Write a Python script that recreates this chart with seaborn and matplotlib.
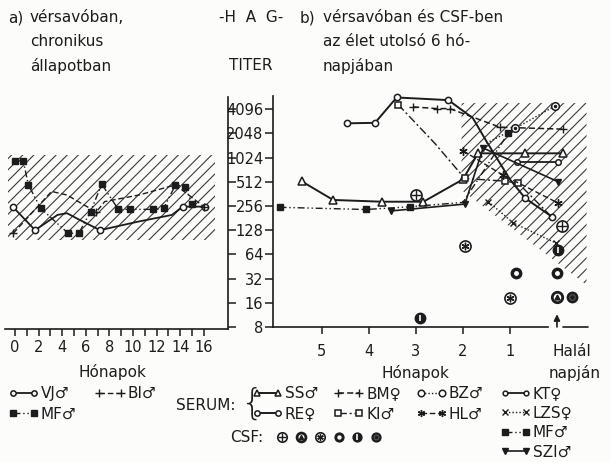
import matplotlib
matplotlib.use("Agg")
import matplotlib.pyplot as plt
import seaborn as sns
from matplotlib.lines import Line2D
from matplotlib.legend_handler import HandlerTuple
from matplotlib.ticker import FixedLocator, NullFormatter

# --- a) panel: chronikus állapot (hónapok, titer) ---
vj_honap = [-0.2, 1.7, 3.6, 4.4, 5.5, 7.2, 10.4, 13.3, 14.2, 16.1]
vj_titer = [251, 128, 198, 208, 171, 128, 163, 198, 251, 251]
bi_honap = [-0.15, 3.1, 4.4, 6.35, 6.9, 7.6, 10.5, 13.6, 16.0]
bi_titer = [117, 388, 350, 239, 217, 290, 350, 468, 251]
mfa_honap = [0, 0.7, 1.13, 2.18, 4.5, 5.4, 6.4, 7.35, 8.75, 9.75, 11.7, 12.6, 13.6, 14.4, 15.0]
mfa_titer = [929, 929, 468, 239, 117, 117, 217, 478, 232, 232, 232, 239, 468, 446, 274]
norm_a_honap = [-0.6, 16.95]
norm_a_titer = [97, 1097]

# --- b) panel: az élet utolsó 6 hónapja (hónap a halálig, titer) ---
ss_honap = [5.43, 4.76, 3.73, 2.84, 2.0, 1.68, 0.68, -0.13]
ss_titer = [520, 305, 290, 290, 550, 1160, 1160, 1160]
re_honap = [4.47, 3.87, 3.41, 2.31, 1.79, 1.49, 1.0, 0.68, 0.11]
re_titer = [2740, 2780, 5750, 5330, 3190, 1600, 549, 322, 189]
bm_honap = [3.06, 2.56, 2.28, 1.21, -0.13]
bm_titer = [4390, 4180, 4180, 2450, 2320]
ki_honap = [3.38, 2.6, 1.96, 1.11, 0.82, 0.11]
ki_titer = [4700, 1550, 564, 523, 491, 187]
bz_honap = [1.5, 0.89, 0.04]
bz_titer = [1550, 2370, 4510]
hl_honap = [2.0, 1.15, -0.03]
hl_titer = [1250, 621, 278]
kt_honap = [0.86, -0.03]
kt_titer = [910, 910]
lzs_honap = [1.46, 0.93, 0.01]
lzs_titer = [290, 158, 88]
mfb_honap = [5.9, 4.06, 3.13, 2.0, 1.04]
mfb_titer = [247, 232, 251, 284, 2048]
szi_honap = [3.52, 1.96, 1.57, -0.03]
szi_titer = [223, 271, 1350, 512]
norm_b_honap = [2.03, -0.63, -0.63, 2.03]
norm_b_titer = [4900, 4900, 26.7, 405]

# CSF mérések (tipus: 0 ⊕, 1 Ⓐ, 2 ⊛, 3 gyűrű, 4 Φ, 5 tömör)
csf_honap = [2.99, -0.1, 1.96, 1.0, 0.87, 0.0, 0.0, -0.31, 2.91, -0.03]
csf_titer = [350, 146, 82, 18.3, 37.3, 37.3, 18.8, 18.8, 10.3, 72.5]
csf_tipus = [0, 0, 2, 2, 3, 3, 1, 5, 4, 4]

titer_ticks = [8, 16, 32, 64, 128, 256, 512, 1024, 2048, 4096]
honap_a_ticks = [0, 2, 4, 6, 8, 10, 12, 14, 16]
honap_b_ticks = [5, 4, 3, 2, 1]

ink = "#1c1c1c"
W, H = 611, 462

sns.set_style("white")
plt.rcParams["font.family"] = ["DejaVu Sans"]
plt.rcParams["hatch.linewidth"] = 0.8


def fx(x):
    return x / W


def fy(y):
    return 1 - y / H


fig = plt.figure(figsize=(W / 100, H / 100), dpi=100, facecolor="#fcfcfa")
ax_a = fig.add_axes([fx(5), fy(329), 223 / W, 232 / H])
ax_b = fig.add_axes([fx(273), fy(327), 315 / W, 231 / H])

for ax in (ax_a, ax_b):
    ax.set_facecolor("none")
    ax.set_yscale("log", base=2)
    ax.yaxis.set_major_locator(FixedLocator(titer_ticks))
    ax.yaxis.set_minor_locator(FixedLocator([]))
    for s in ax.spines.values():
        s.set_color(ink)
        s.set_linewidth(1.2)

ax_a.set_xlim(-0.85, 18.05)
ax_a.set_ylim(2 ** 2.917, 2 ** 12.5)
ax_b.set_xlim(6.04, -0.66)
ax_b.set_ylim(8, 2 ** 12.55)

# normál tartomány (sraffozott)
ax_a.fill_between(norm_a_honap, norm_a_titer[0], norm_a_titer[1], facecolor="none",
                  edgecolor="#3a3a3a", hatch="///", linewidth=0)
ax_b.fill(norm_b_honap, norm_b_titer, facecolor="none", edgecolor="#3a3a3a",
          hatch="///", linewidth=0)

open_kw = dict(markerfacecolor="white", markeredgecolor=ink, markeredgewidth=1.1)
fill_kw = dict(markerfacecolor=ink, markeredgecolor=ink, markeredgewidth=1.0)
aster = (6, 2, 0)

stilusok = {
    "VJ": dict(ls="-", lw=1.3, marker="o", ms=4.5, **open_kw),
    "BI": dict(ls=(0, (4, 2)), lw=1.0, marker="+", ms=6, **fill_kw),
    "MF": dict(ls=(0, (5, 2, 1, 2, 1, 2)), lw=1.0, marker="s", ms=4.5, **fill_kw),
    "SS": dict(ls="-", lw=1.4, marker="^", ms=5.5, **open_kw),
    "RE": dict(ls="-", lw=1.4, marker="o", ms=4.5, **open_kw),
    "BM": dict(ls=(0, (4, 2)), lw=1.1, marker="+", ms=6, **fill_kw),
    "KI": dict(ls=(0, (6, 2, 1.5, 2)), lw=1.0, marker="s", ms=4.5, **open_kw),
    "BZ": dict(ls=(0, (1, 1.5)), lw=1.0, marker="o", ms=5.5, **open_kw),
    "HL": dict(ls=(0, (4, 2)), lw=1.0, marker=aster, ms=6, **fill_kw),
    "KT": dict(ls="-", lw=1.3, marker="o", ms=4, **open_kw),
    "LZS": dict(ls=(0, (1, 1.5)), lw=1.0, marker="x", ms=4.5, **fill_kw),
    "SZI": dict(ls="-", lw=1.2, marker="v", ms=5, **fill_kw),
}


def vonal(ax, x, y, nev, every=None):
    kw = dict(stilusok[nev])
    sns.lineplot(x=x, y=y, ax=ax, color=ink, sort=False, estimator=None,
                 linestyle=kw.pop("ls"), linewidth=kw.pop("lw"),
                 markersize=kw.pop("ms"), markevery=every, clip_on=False, **kw)


vonal(ax_a, vj_honap, vj_titer, "VJ", [0, 1, 5, 8, 9])
vonal(ax_a, bi_honap, bi_titer, "BI", [0, 4, 8])
vonal(ax_a, mfa_honap, mfa_titer, "MF")

vonal(ax_b, ss_honap, ss_titer, "SS", [0, 1, 2, 3, 4, 5, 6, 7])
vonal(ax_b, re_honap, re_titer, "RE", [0, 1, 2, 3, 7, 8])
vonal(ax_b, bm_honap, bm_titer, "BM")
vonal(ax_b, ki_honap, ki_titer, "KI", [0, 2, 3, 4])
vonal(ax_b, bz_honap, bz_titer, "BZ", [1, 2])
ax_b.plot(bz_honap[1:], bz_titer[1:], ls="none", marker="o", ms=1.5, color=ink)
vonal(ax_b, hl_honap, hl_titer, "HL")
vonal(ax_b, kt_honap, kt_titer, "KT")
vonal(ax_b, lzs_honap, lzs_titer, "LZS")
vonal(ax_b, mfb_honap, mfb_titer, "MF", [0, 1, 2, 4])
vonal(ax_b, szi_honap, szi_titer, "SZI")

# CSF jelölők: kör + belső jel
csf_jel = [
    [dict(marker="o", ms=8, mfc="white", mec=ink, mew=1.2), dict(marker="+", ms=7, mec=ink, mew=1.0)],
    [dict(marker="o", ms=7.5, mfc="white", mec=ink, mew=2.0), dict(marker="^", ms=3.5, mfc=ink, mec=ink)],
    [dict(marker="o", ms=8, mfc="white", mec=ink, mew=1.2), dict(marker=aster, ms=5.5, mec=ink, mew=1.0)],
    [dict(marker="o", ms=7.5, mfc=ink, mec=ink), dict(marker="o", ms=2.5, mfc="white", mec="white")],
    [dict(marker="o", ms=7.5, mfc=ink, mec=ink), dict(marker="|", ms=5, mec="white", mew=1.2)],
    [dict(marker="o", ms=7.5, mfc=ink, mec=ink), dict(marker="o", ms=4, mfc="none", mec="#555", mew=0.8)],
]
for x, y, t in zip(csf_honap, csf_titer, csf_tipus):
    for kw in csf_jel[t]:
        ax_b.plot([x], [y], ls="none", clip_on=False, zorder=5, **kw)

# tengelyek
ax_a.spines["top"].set_visible(False)
ax_a.spines["left"].set_visible(False)
ax_a.yaxis.tick_right()
ax_a.yaxis.set_major_formatter(NullFormatter())
ax_a.tick_params(axis="y", which="major", direction="out", length=6, width=1.1, color=ink)
ax_a.xaxis.set_major_locator(FixedLocator(honap_a_ticks))
ax_a.xaxis.set_minor_locator(FixedLocator(range(1, 17, 2)))
ax_a.tick_params(axis="x", which="both", direction="out", length=5, width=1.1,
                 color=ink, labelsize=10.5, labelcolor=ink, pad=3, bottom=True)

ax_b.spines["top"].set_visible(False)
ax_b.spines["right"].set_visible(False)
ax_b.spines["bottom"].set_bounds(6.04, 0.2)
ax_b.plot([-0.13, -0.66], [8, 8], color=ink, lw=1.2, clip_on=False)
ax_b.set_yticks(titer_ticks)
ax_b.set_yticklabels([str(t) for t in titer_ticks])
ax_b.tick_params(axis="y", direction="out", length=6, width=1.1, color=ink,
                 labelsize=10.5, labelcolor=ink, pad=1, left=True)
ax_b.set_xticks(honap_b_ticks)
ax_b.set_xticklabels([str(t) for t in honap_b_ticks])
ax_b.tick_params(axis="x", direction="out", length=5, width=1.1, color=ink,
                 labelsize=10.5, labelcolor=ink, pad=7, bottom=True)
ax_b.annotate("", xy=(0, 12.5), xytext=(0, 7.4), annotation_clip=False,
              arrowprops=dict(arrowstyle="-|>", color=ink, lw=1.2, mutation_scale=9))
for ax in (ax_a, ax_b):
    ax.set_xlabel("")
    ax.set_ylabel("")

# feliratok
txt = dict(color=ink, fontsize=11, va="center")
fig.text(fx(8), fy(18), "a)", ha="left", **txt)
fig.text(fx(30), fy(18), "vérsavóban,", ha="left", **txt)
fig.text(fx(30), fy(42), "chronikus", ha="left", **txt)
fig.text(fx(30), fy(66), "állapotban", ha="left", **txt)
fig.text(fx(251), fy(18), "-H  A  G-", ha="center", **txt)
fig.text(fx(251), fy(66), "TITER", ha="center", **txt)
fig.text(fx(300), fy(18), "b)", ha="left", **txt)
fig.text(fx(323), fy(18), "vérsavóban és CSF-ben", ha="left", **txt)
fig.text(fx(323), fy(42), "az élet utolsó 6 hó-", ha="left", **txt)
fig.text(fx(323), fy(66), "napjában", ha="left", **txt)
fig.text(fx(112), fy(372), "Hónapok", ha="center", **txt)
fig.text(fx(415), fy(373), "Hónapok", ha="center", **txt)
fig.text(fx(552), fy(352), "Halál", ha="left", **txt)
fig.text(fx(549), fy(373), "napján", ha="left", **txt)
fig.text(fx(176), fy(405), "SERUM:", ha="left", **txt)
fig.text(fx(241), fy(404), "{", ha="left", color=ink, fontsize=26, va="center",
         fontweight="light")
fig.text(fx(230), fy(438), "CSF:", ha="left", **txt)


def minta(nev):
    kw = dict(stilusok[nev])
    return Line2D([], [], color=ink, linestyle=kw.pop("ls"), linewidth=kw.pop("lw"),
                  markersize=kw.pop("ms") * 0.85, **kw)


leg_kw = dict(frameon=False, fontsize=11, numpoints=2, handlelength=2.0,
              handletextpad=0.15, borderpad=0, borderaxespad=0, labelspacing=0.35,
              labelcolor=ink, loc="upper left")
fig.legend([minta("VJ"), minta("MF"), minta("BI")], ["VJ♂", "MF♂", "BI♂"], ncol=2,
           columnspacing=1.2, bbox_to_anchor=(fx(8), fy(386)), **leg_kw)
fig.legend([minta(n) for n in ["SS", "RE", "BM", "KI", "BZ", "HL"]],
           ["SS♂", "RE♀", "BM♀", "KI♂", "BZ♂", "HL♂"], ncol=3, columnspacing=1.0,
           bbox_to_anchor=(fx(252), fy(386)), **leg_kw)
fig.legend([minta(n) for n in ["KT", "LZS", "MF", "SZI"]],
           ["KT♀", "LZS♀", "MF♂", "SZI♂"], ncol=1,
           bbox_to_anchor=(fx(500), fy(386)), **{**leg_kw, "labelspacing": 0.3})

csf_minta = [tuple(Line2D([], [], ls="none", **{**kw, "ms": kw["ms"] * 0.85})
                   for kw in jel) for jel in csf_jel]
fig.legend(csf_minta, [""] * 6, ncol=6, frameon=False, loc="center left",
           bbox_to_anchor=(fx(276), fy(438)),
           handler_map={tuple: HandlerTuple(ndivide=1, pad=0)},
           handlelength=0.9, handletextpad=0, columnspacing=0.45, borderpad=0,
           borderaxespad=0, numpoints=1)

fig.savefig("out.png", dpi=100, facecolor=fig.get_facecolor())
